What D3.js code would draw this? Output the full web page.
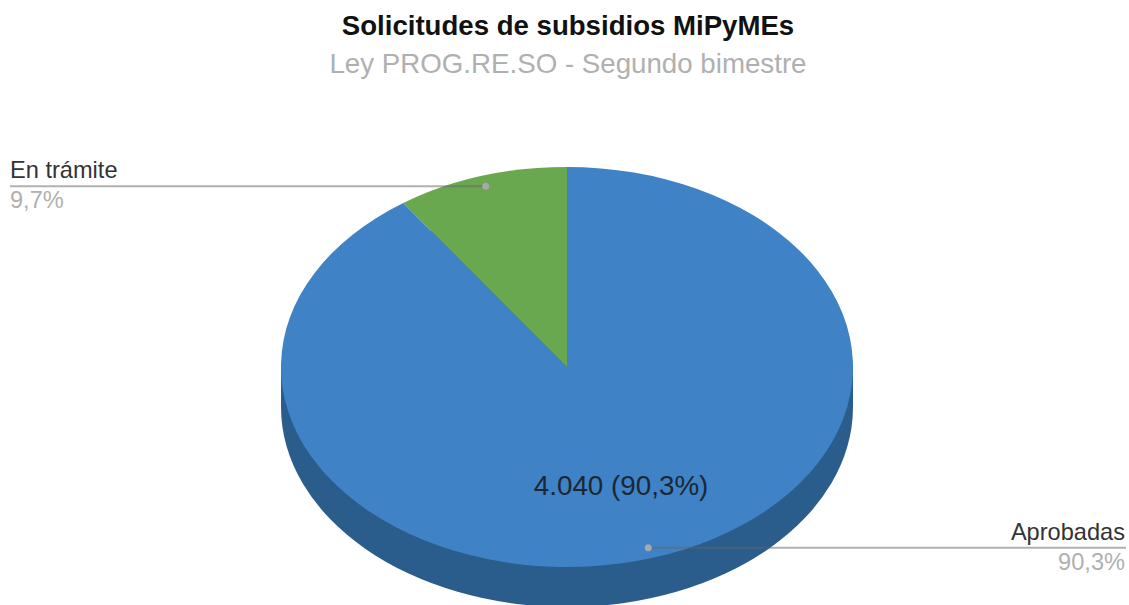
<!DOCTYPE html>
<html>
<head>
<meta charset="utf-8">
<script src="https://cdn.jsdelivr.net/npm/d3@7"></script>
<style>
  html, body { margin: 0; padding: 0; background: #fff; overflow: hidden; }
  text { font-family: 'Liberation Sans', Arial, sans-serif; }
</style>
</head>
<body>
<div id="chart"></div>
<script>
const categories = ['Aprobadas', 'En trámite']
const values = [4040, 434]
const percentLabels = ['90,3%', '9,7%']
const sliceLabel = '4.040 (90,3%)'
const colors = ['#3f83c6', '#6aa84f']

const width = 1129
const height = 605
const cx = 567
const cy = 367
const rx = 286
const ry = 200
const depth = 40

const svg = d3
  .select('#chart')
  .append('svg')
  .attr('width', width)
  .attr('height', height)
  .style('display', 'block')

svg
  .append('text')
  .attr('x', 568)
  .attr('y', 35)
  .attr('text-anchor', 'middle')
  .attr('font-size', 27.6)
  .attr('font-weight', 700)
  .attr('fill', '#111')
  .text('Solicitudes de subsidios MiPyMEs')

svg
  .append('text')
  .attr('x', 568)
  .attr('y', 73)
  .attr('text-anchor', 'middle')
  .attr('font-size', 27.7)
  .attr('fill', '#b0b0b0')
  .text('Ley PROG.RE.SO - Segundo bimestre')

const pie = d3.pie().sort(null)
const arcs = pie(values)
const arc = d3.arc().innerRadius(0).outerRadius(rx)
const squash = ry / rx

// side wall first, top of the pie goes over it
svg
  .append('rect')
  .attr('x', cx - rx)
  .attr('y', cy)
  .attr('width', rx * 2)
  .attr('height', depth)
  .attr('fill', '#2a5d8c')

svg
  .append('ellipse')
  .attr('cx', cx)
  .attr('cy', cy + depth)
  .attr('rx', rx)
  .attr('ry', ry)
  .attr('fill', '#2a5d8c')

const pieTop = svg
  .append('g')
  .attr('transform', 'translate(' + cx + ',' + cy + ') scale(1,' + squash + ')')

pieTop
  .selectAll('path')
  .data(arcs)
  .enter()
  .append('path')
  .attr('d', arc)
  .attr('fill', (d, i) => colors[i])

// point on the slice at a fraction of the radius, in page coordinates
function onSlice(d, f) {
  const a = (d.startAngle + d.endAngle) / 2
  return [cx + rx * f * Math.sin(a), cy - ry * f * Math.cos(a)]
}

const labelX = [1126, 10]
const labelAnchor = ['end', 'start']

const leaders = svg
  .selectAll('.leader')
  .data(arcs)
  .enter()
  .append('g')
  .attr('class', 'leader')

leaders
  .append('line')
  .attr('x1', (d, i) => labelX[i])
  .attr('x2', d => onSlice(d, 0.947)[0])
  .attr('y1', d => onSlice(d, 0.947)[1])
  .attr('y2', d => onSlice(d, 0.947)[1])
  .attr('stroke', '#636363')
  .attr('stroke-opacity', 0.5)
  .attr('stroke-width', 2)

leaders
  .append('circle')
  .attr('cx', d => onSlice(d, 0.947)[0])
  .attr('cy', d => onSlice(d, 0.947)[1])
  .attr('r', 3.5)
  .attr('fill', '#a8a8a8')

leaders
  .append('text')
  .attr('x', (d, i) => labelX[i] - (i === 0 ? 1 : 0))
  .attr('y', d => onSlice(d, 0.947)[1] - 8)
  .attr('text-anchor', (d, i) => labelAnchor[i])
  .attr('font-size', 23.6)
  .attr('fill', '#333')
  .text((d, i) => categories[i])

leaders
  .append('text')
  .attr('x', (d, i) => labelX[i] - (i === 0 ? 1 : 0))
  .attr('y', d => onSlice(d, 0.947)[1] + 22)
  .attr('text-anchor', (d, i) => labelAnchor[i])
  .attr('font-size', 23.6)
  .attr('fill', '#b0b0b0')
  .text((d, i) => percentLabels[i])

svg
  .append('text')
  .attr('x', onSlice(arcs[0], 0.63)[0])
  .attr('y', onSlice(arcs[0], 0.63)[1])
  .attr('dy', 8)
  .attr('text-anchor', 'middle')
  .attr('font-size', 27.8)
  .attr('fill', '#1c2733')
  .text(sliceLabel)
</script>
</body>
</html>
